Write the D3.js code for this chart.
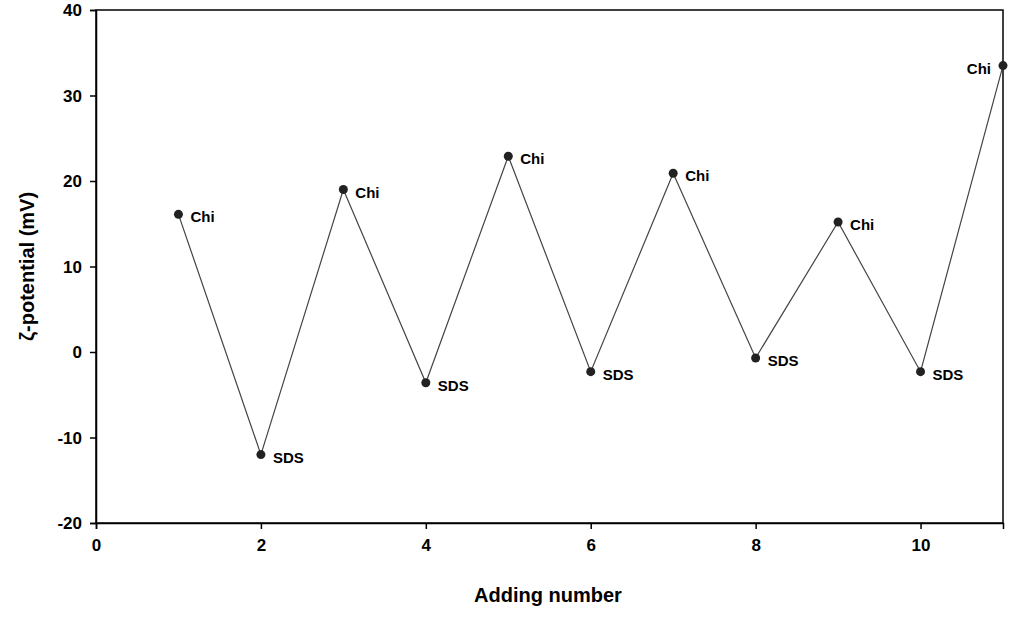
<!DOCTYPE html><html><head><meta charset="utf-8">
<script src="https://cdn.jsdelivr.net/npm/d3@7"></script>
<style>body{margin:0;background:#fff}text{font-family:"Liberation Sans",Arial,sans-serif;font-weight:bold}</style>
</head><body><svg id="c" width="1024" height="619"></svg><script>
const xs=[1,2,3,4,5,6,7,8,9,10,11];
const zeta=[16.1,-12.0,19.0,-3.6,22.9,-2.3,20.9,-0.7,15.2,-2.3,33.5];
const labels=["Chi","SDS","Chi","SDS","Chi","SDS","Chi","SDS","Chi","SDS","Chi"];
const xTicks=[0,2,4,6,8,10];
const yTicks=[-20,-10,0,10,20,30,40];
const svg=d3.select("#c");
const L=96,R=1003,T=10,B=523;
const x=d3.scaleLinear().domain([0,11]).range([L,R]);
const y=d3.scaleLinear().domain([-20,40]).range([B,T]);
svg.append("rect").attr("x",L).attr("y",T).attr("width",R-L).attr("height",B-T).attr("fill","none").attr("stroke","#000").attr("stroke-width",1.5);
const ax=svg.append("g").attr("transform",`translate(0,${B})`).call(d3.axisBottom(x).tickValues(xTicks).tickFormat(String).tickSize(6).tickPadding(10));
const ay=svg.append("g").attr("transform",`translate(${L},0)`).call(d3.axisLeft(y).tickValues(yTicks).tickFormat(String).tickSize(6).tickPadding(8));
[ax,ay].forEach(a=>{a.selectAll("text").style("font-size","17px").attr("fill","#000");a.select(".domain").attr("stroke-width",1.5);a.selectAll("line").attr("stroke-width",1.5);});
ay.selectAll("text").attr("dy","0.35em");
svg.append("path").datum(xs.map((d,i)=>[d,zeta[i]])).attr("fill","none").attr("stroke","#444").attr("stroke-width",1.2)
 .attr("d",d3.line().x(d=>x(d[0])).y(d=>y(d[1])));
svg.selectAll("circle").data(xs).join("circle").attr("cx",d=>x(d)).attr("cy",(d,i)=>y(zeta[i])).attr("r",4.5).attr("fill","#222");
svg.selectAll(".lb").data(xs).join("text").attr("class","lb")
 .attr("x",(d,i)=>i==10?x(d)-12:x(d)+12).attr("y",(d,i)=>y(zeta[i])+8)
 .attr("text-anchor",(d,i)=>i==10?"end":"start").style("font-size","15px").text((d,i)=>labels[i]);
svg.append("text").attr("x",548).attr("y",602).attr("text-anchor","middle").style("font-size","20px").text("Adding number");
svg.append("text").attr("transform",`translate(34,${(T+B)/2}) rotate(-90)`).attr("text-anchor","middle").style("font-size","20px").text("ζ-potential  (mV)");
</script></body></html>
